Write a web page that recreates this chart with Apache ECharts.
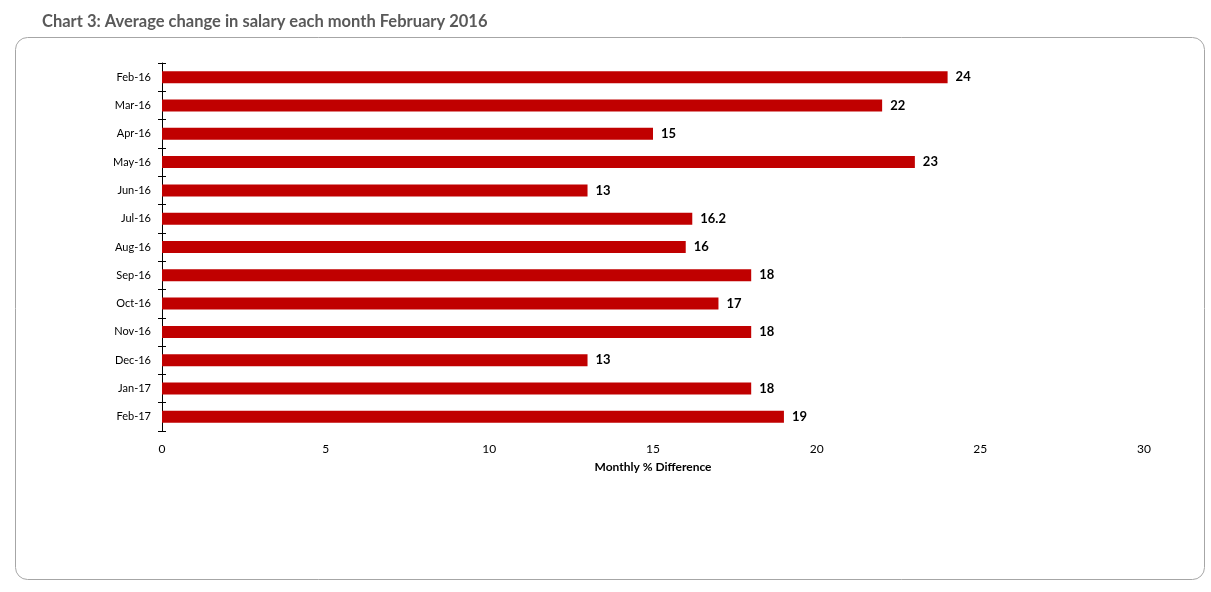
<!DOCTYPE html>
<html><head><meta charset="utf-8">
<script src="https://cdn.jsdelivr.net/npm/echarts@6/dist/echarts.min.js"></script>
<style>html,body{margin:0;padding:0;background:#fff}#c{width:1211px;height:592px}</style>
</head><body><div id="c"></div>
<script>
var categories = ['Feb-16','Mar-16','Apr-16','May-16','Jun-16','Jul-16','Aug-16','Sep-16','Oct-16','Nov-16','Dec-16','Jan-17','Feb-17'];
var values = [24, 22, 15, 23, 13, 16.2, 16, 18, 17, 18, 13, 18, 19];
var xTicks = [0, 5, 10, 15, 20, 25, 30];
var chart = echarts.init(document.getElementById('c'));
var font = 'Lato, "Open Sans", sans-serif';
chart.setOption({
  animation: false,
  textStyle: {fontFamily: font},
  title: {text: 'Chart 3: Average change in salary each month February 2016', left: 37, top: 8,
    textStyle: {fontSize: 16.5, fontWeight: 'bold', color: '#595959', fontFamily: font}},
  graphic: [{type: 'rect', shape: {x: 15.5, y: 37.5, width: 1189, height: 542, r: 12},
    style: {fill: 'none', stroke: '#a6a6a6', lineWidth: 1}, silent: true, z: -1}],
  grid: {left: 162, right: 67, top: 63, bottom: 161, containLabel: false},
  xAxis: {type: 'value', min: xTicks[0], max: xTicks[xTicks.length - 1], interval: 5,
    name: 'Monthly % Difference', nameLocation: 'middle', nameGap: 30,
    nameTextStyle: {fontSize: 12, fontWeight: 'bold', color: '#000', fontFamily: font},
    axisLine: {show: false}, axisTick: {show: false}, splitLine: {show: false},
    axisLabel: {fontSize: 12, color: '#000', margin: 12, fontFamily: font}},
  yAxis: [{type: 'category', data: categories, inverse: true,
    axisLine: {show: true, lineStyle: {color: '#000', width: 1}},
    axisTick: {show: true, length: 4, lineStyle: {color: '#000'}},
    axisLabel: {fontSize: 11, color: '#000', margin: 11, fontFamily: font}},
    {type: 'category', data: categories, inverse: true, position: 'left',
    axisLine: {show: false}, axisTick: {show: true, inside: true, length: 4, lineStyle: {color: '#000'}},
    axisLabel: {show: false}}],
  series: [{type: 'bar', data: values, barWidth: 12,
    itemStyle: {color: '#C00000'},
    label: {show: true, position: 'right', distance: 8, fontSize: 13, fontWeight: 'bold', color: '#000', fontFamily: font}}]
});
</script></body></html>
